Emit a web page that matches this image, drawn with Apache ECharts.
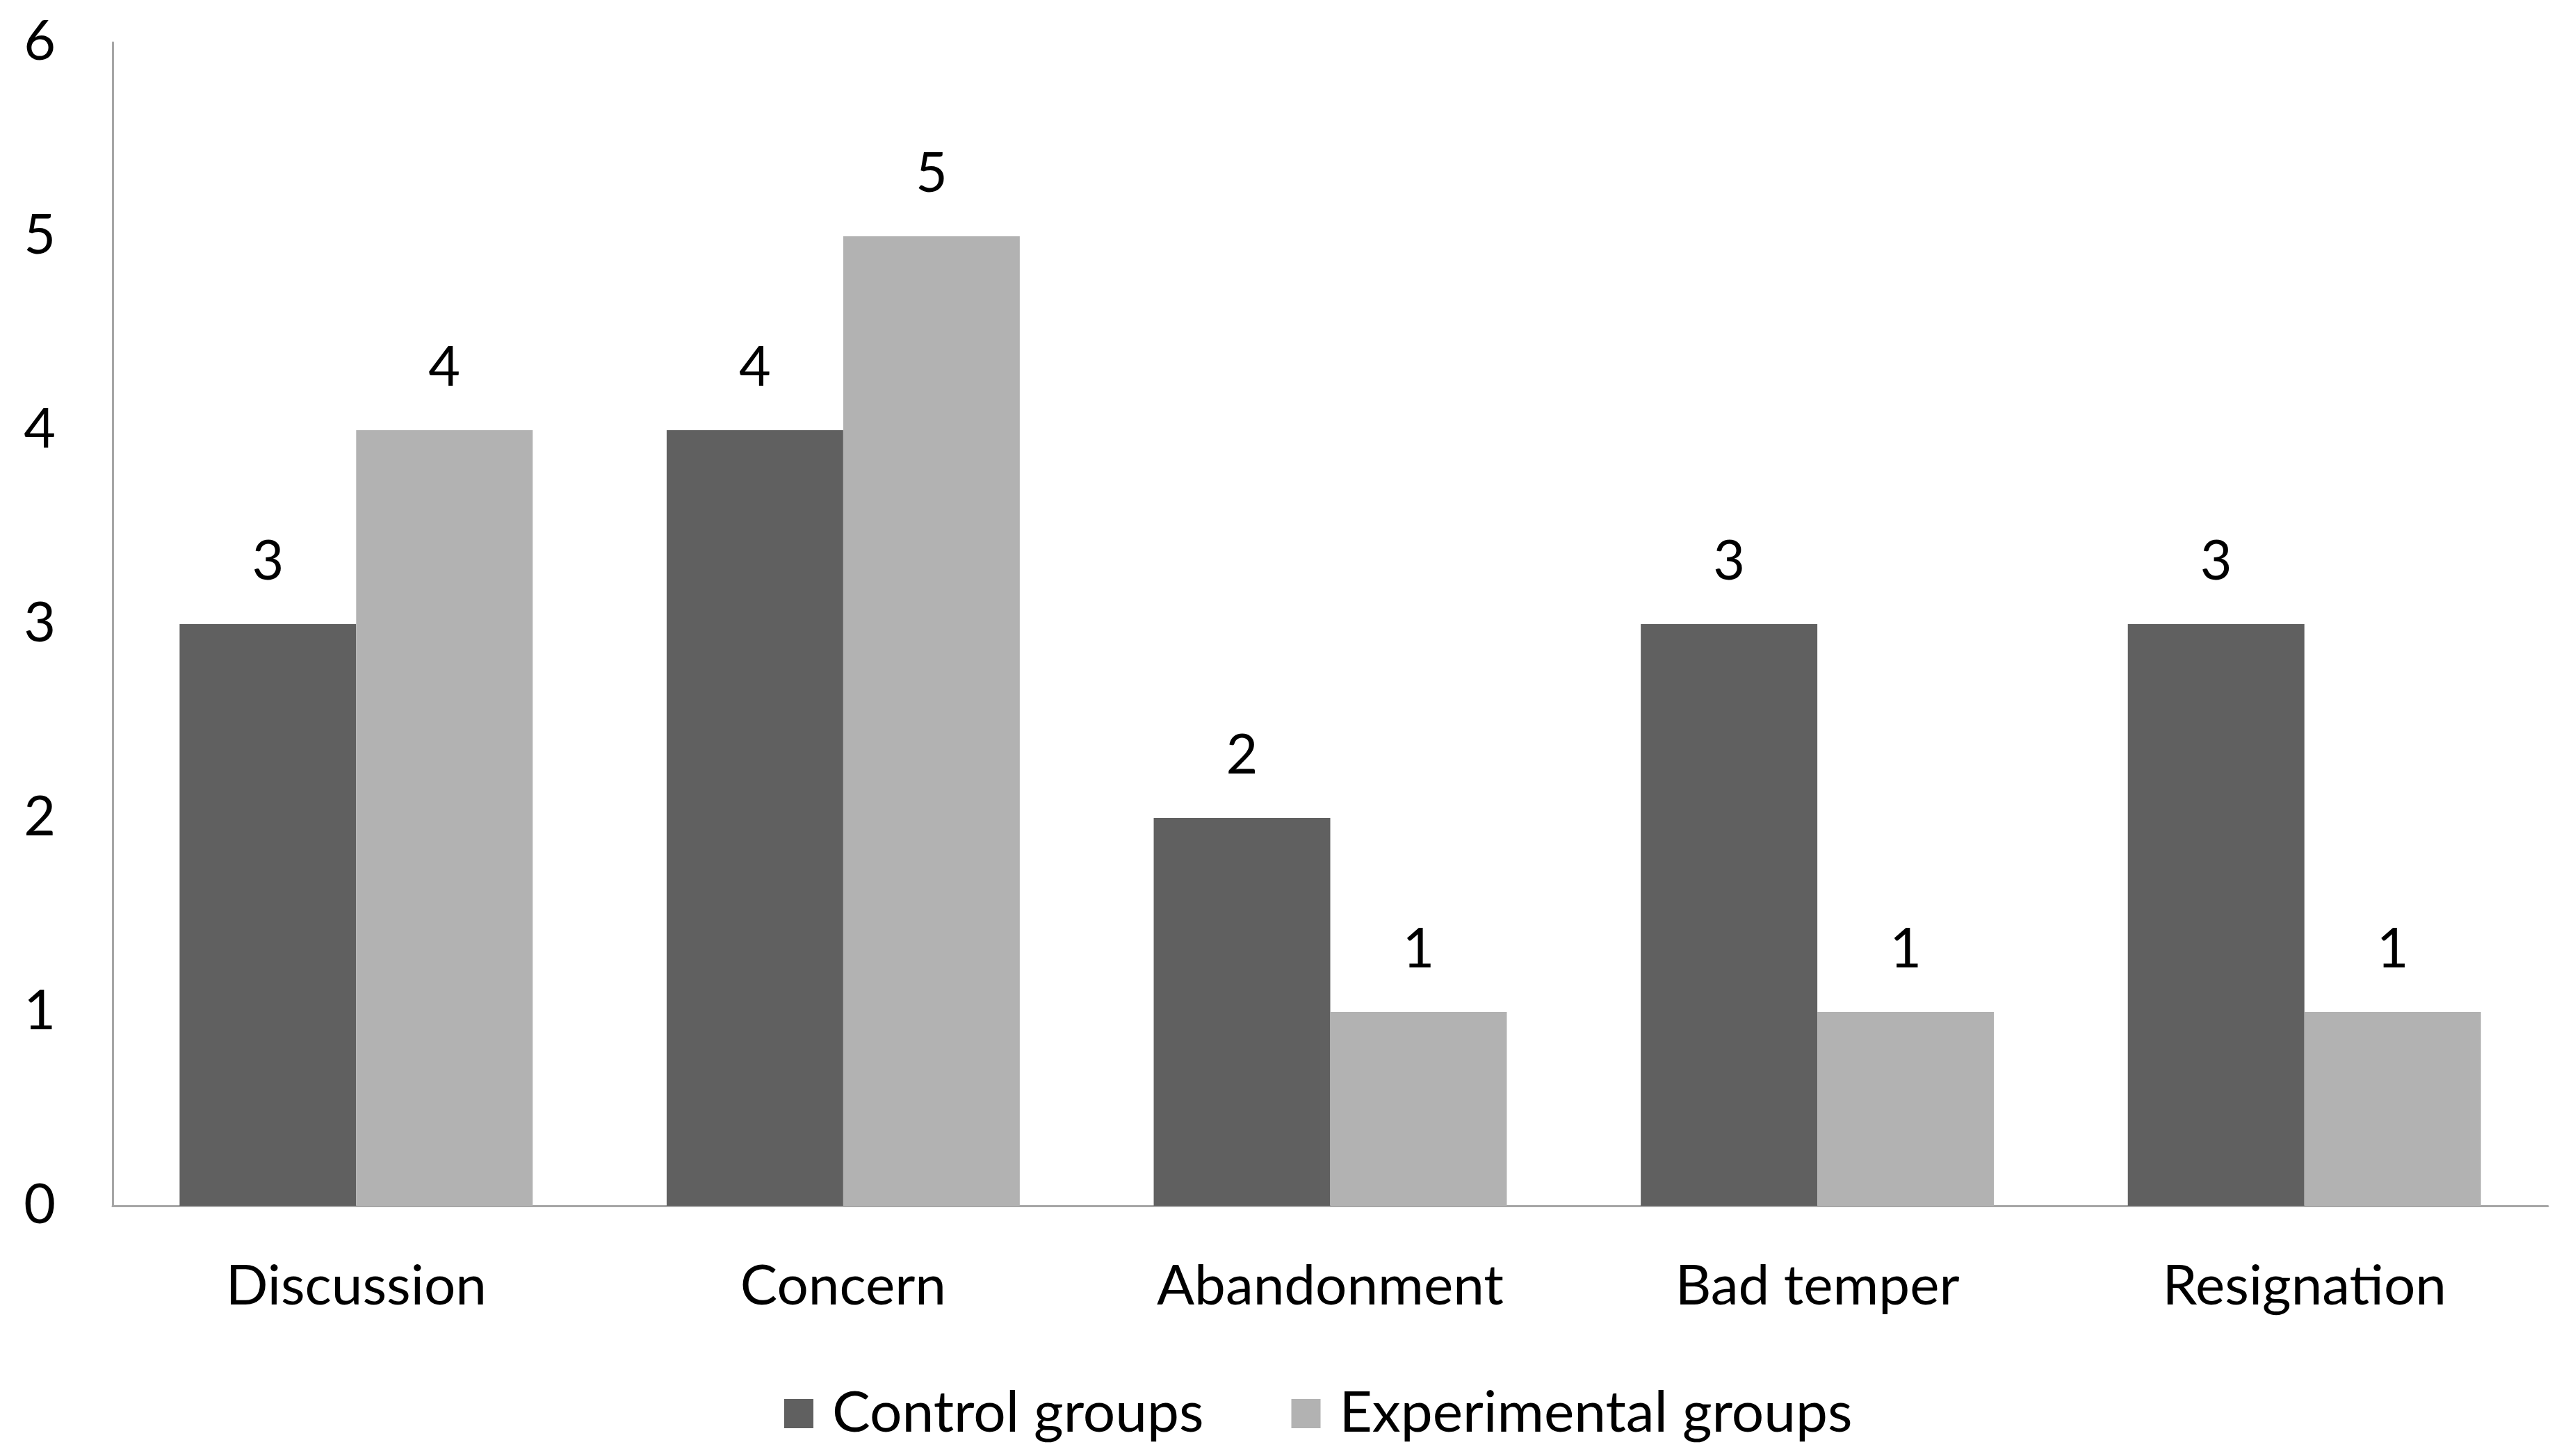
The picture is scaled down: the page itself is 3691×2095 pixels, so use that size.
<!DOCTYPE html>
<html><head><meta charset="utf-8">
<script src="https://cdn.jsdelivr.net/npm/echarts@6/dist/echarts.min.js"></script>
<style>html,body{margin:0;padding:0;background:#fff}#c{width:3691px;height:2095px}</style>
</head><body><div id="c"></div>
<script>
const categories = ["Discussion", "Concern", "Abandonment", "Bad temper", "Resignation"];
const controlValues = [3, 4, 2, 3, 3];
const experimentalValues = [4, 5, 1, 1, 1];
const seriesNames = ["Control groups", "Experimental groups"];
const yTicks = [0, 1, 2, 3, 4, 5, 6];

const FONT = 'Lato';
const chart = echarts.init(document.getElementById('c'));
const labelCfg = {show: true, position: 'top', distance: 50, color: '#000', fontFamily: FONT, fontSize: 79};
chart.setOption({
  animation: false,
  backgroundColor: '#fff',
  grid: {left: 162, right: 26, top: 61, bottom: 360, containLabel: false},
  legend: {
    data: seriesNames, left: 1128, top: 1993, padding: 0,
    itemWidth: 42, itemHeight: 42, itemGap: 126, icon: 'rect',
    textStyle: {fontFamily: FONT, fontSize: 82, color: '#000', padding: [0, 0, 0, 22]}
  },
  xAxis: {
    type: 'category', data: categories,
    axisLine: {lineStyle: {color: '#a6a6a6', width: 3}},
    axisTick: {show: false},
    axisLabel: {color: '#000', fontFamily: FONT, fontSize: 80, margin: 76}
  },
  yAxis: {
    type: 'value', min: yTicks[0], max: yTicks[yTicks.length - 1], interval: 1,
    axisLine: {show: true, lineStyle: {color: '#a6a6a6', width: 3}},
    axisTick: {show: false}, splitLine: {show: false},
    axisLabel: {color: '#000', fontFamily: FONT, fontSize: 79, margin: 82}
  },
  series: [
    {name: seriesNames[0], type: 'bar', data: controlValues, barGap: '0%', barCategoryGap: '27.5%',
     itemStyle: {color: '#606060'}, label: labelCfg},
    {name: seriesNames[1], type: 'bar', data: experimentalValues, barGap: '0%', barCategoryGap: '27.5%',
     itemStyle: {color: '#b2b2b2'}, label: labelCfg}
  ]
});
</script></body></html>
